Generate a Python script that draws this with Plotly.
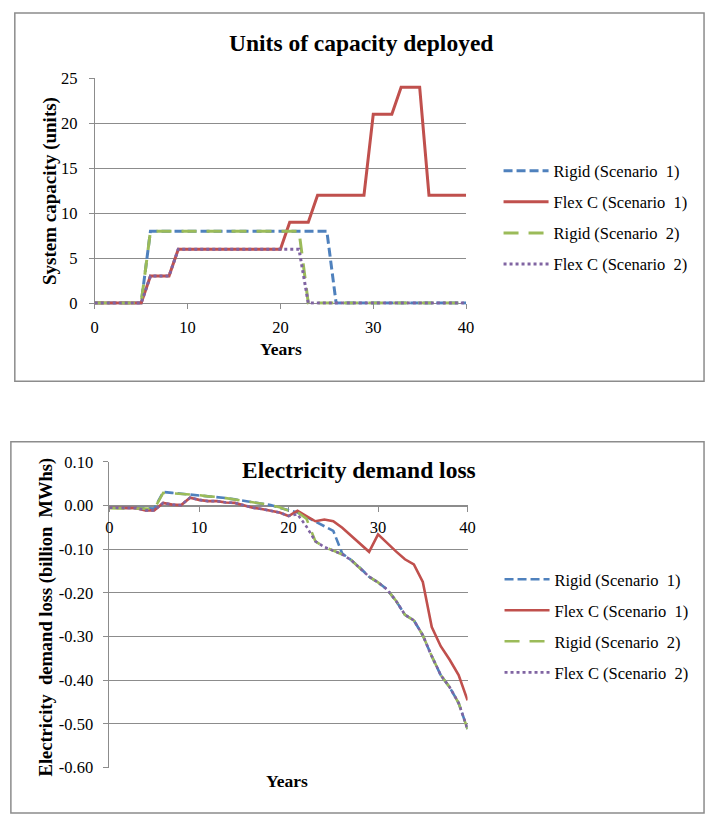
import plotly.graph_objects as go

W, H = 714, 826

years = list(range(41))

# Units of capacity deployed
rigid_s1_cap = [0, 0, 0, 0, 0, 0, 8, 8, 8, 8, 8, 8, 8, 8, 8, 8, 8, 8, 8, 8, 8,
                8, 8, 8, 8, 8, 0, 0, 0, 0, 0, 0, 0, 0, 0, 0, 0, 0, 0, 0, 0]
flex_s1_cap = [0, 0, 0, 0, 0, 0, 3, 3, 3, 6, 6, 6, 6, 6, 6, 6, 6, 6, 6, 6, 6,
               9, 9, 9, 12, 12, 12, 12, 12, 12, 21, 21, 21, 24, 24, 24, 12, 12, 12, 12, 12]
rigid_s2_cap = [0, 0, 0, 0, 0, 0, 8, 8, 8, 8, 8, 8, 8, 8, 8, 8, 8, 8, 8, 8, 8,
                8, 8, 0, 0, 0, 0, 0, 0, 0, 0, 0, 0, 0, 0, 0, 0, 0, 0, 0, 0]
flex_s2_cap = [0, 0, 0, 0, 0, 0, 3, 3, 3, 6, 6, 6, 6, 6, 6, 6, 6, 6, 6, 6, 6,
               6, 6, 0, 0, 0, 0, 0, 0, 0, 0, 0, 0, 0, 0, 0, 0, 0, 0, 0, 0]

# Electricity demand loss (billion MWhs)
rigid_s1_loss = [-0.005, -0.005, -0.005, -0.005, -0.006, -0.007, 0.031, 0.029, 0.027, 0.025,
                 0.023, 0.021, 0.020, 0.017, 0.014, 0.011, 0.008, 0.004, 0.001, -0.005,
                 -0.011, -0.016, -0.026, -0.037, -0.047, -0.058, -0.110, -0.125, -0.143, -0.163,
                 -0.176, -0.192, -0.218, -0.250, -0.263, -0.297, -0.345, -0.388, -0.416, -0.452,
                 -0.512]
flex_s1_loss = [-0.005, -0.005, -0.005, -0.006, -0.011, -0.011, 0.006, 0.002, 0.001, 0.018,
                0.013, 0.010, 0.010, 0.007, 0.006, 0.000, -0.005, -0.008, -0.012, -0.016,
                -0.024, -0.012, -0.024, -0.036, -0.032, -0.036, -0.051, -0.070, -0.089, -0.106,
                -0.066, -0.086, -0.105, -0.123, -0.135, -0.175, -0.278, -0.322, -0.353, -0.388,
                -0.446]
rigid_s2_loss = [-0.006, -0.006, -0.006, -0.006, -0.007, -0.008, 0.029, 0.028, 0.027, 0.025,
                 0.024, 0.021, 0.020, 0.017, 0.014, 0.011, 0.008, 0.004, 0.001, -0.004,
                 -0.012, -0.015, -0.030, -0.082, -0.095, -0.103, -0.112, -0.125, -0.143, -0.163,
                 -0.176, -0.192, -0.218, -0.250, -0.263, -0.297, -0.345, -0.388, -0.416, -0.452,
                 -0.512]
flex_s2_loss = [-0.005, -0.005, -0.005, -0.006, -0.011, -0.011, 0.006, 0.002, 0.001, 0.018,
                0.013, 0.010, 0.010, 0.007, 0.006, 0.000, -0.005, -0.008, -0.012, -0.016,
                -0.024, -0.020, -0.048, -0.082, -0.095, -0.103, -0.112, -0.125, -0.143, -0.163,
                -0.176, -0.192, -0.218, -0.250, -0.263, -0.297, -0.345, -0.388, -0.416, -0.452,
                -0.512]

series_names = ["Rigid (Scenario\u00a0 1)", "Flex C (Scenario\u00a0 1)",
                "Rigid (Scenario\u00a0 2)", "Flex C (Scenario\u00a0 2)"]
cap_tickvals = [0, 5, 10, 15, 20, 25]
loss_tickvals = [0.10, 0.00, -0.10, -0.20, -0.30, -0.40, -0.50, -0.60]
loss_ticktext = ["0.10", "0.00", "-0.10", "-0.20", "-0.30", "-0.40", "-0.50", "-0.60"]
year_ticks = [0, 10, 20, 30, 40]

colors = ["#4F81BD", "#C0504D", "#9BBB59", "#8064A2"]
dashes = ["9px,4px", "solid", "15px,10px", "3px,3px"]
FONT = "Liberation Serif"
GRID = "#8c8c8c"


def py(p):
    return 1 - p / H


def px_(p):
    return p / W


fig = go.Figure()

cap_series = [rigid_s1_cap, flex_s1_cap, rigid_s2_cap, flex_s2_cap]
loss_series = [rigid_s1_loss, flex_s1_loss, rigid_s2_loss, flex_s2_loss]

for i, ys in enumerate(cap_series):
    fig.add_trace(go.Scatter(x=years, y=ys, mode="lines", name=series_names[i],
                             line=dict(color=colors[i], width=3, dash=dashes[i]),
                             xaxis="x", yaxis="y", legend="legend", legendgroup="a%d" % i))
for i, ys in enumerate(loss_series):
    fig.add_trace(go.Scatter(x=years, y=ys, mode="lines", name=series_names[i],
                             line=dict(color=colors[i], width=2.6, dash=dashes[i]),
                             xaxis="x2", yaxis="y2", legend="legend2", legendgroup="b%d" % i))

# top plot geometry (pixels)
t_x0, t_x1 = 92.3, 470.0
t_ytop, t_y0 = 71.0, 301.0
t_min = -0.2
t_scale = (t_y0 - t_ytop) / 25.0
t_ybot = t_y0 - t_min * t_scale

# bottom plot geometry
b_x0, b_x1 = 107.3, 471.5
b_ytop, b_ybot = 463.5, 776.5
b_zero = b_ytop + (0.10 - 0.0) / 0.7 * (b_ybot - b_ytop)

tickfont = dict(family=FONT, size=16.5, color="#000000")
legfont = dict(family=FONT, size=16.5, color="#000000")

fig.update_layout(
    width=W, height=H,
    margin=dict(l=0, r=0, t=0, b=0),
    paper_bgcolor="white", plot_bgcolor="white",
    font=dict(family=FONT, color="#000000"),
    xaxis=dict(domain=[px_(t_x0), px_(t_x1)], range=[0, 40], tickvals=year_ticks,
               anchor="free", position=py(t_y0), showgrid=False, zeroline=False,
               showline=True, linecolor=GRID, linewidth=1, ticks="outside", ticklen=5,
               tickcolor=GRID, tickfont=tickfont, ticklabelstandoff=4, layer="below traces"),
    yaxis=dict(domain=[py(t_ybot), py(t_ytop)], range=[t_min, 25], tickvals=cap_tickvals,
               anchor="x", showgrid=True, gridcolor=GRID, gridwidth=1, zeroline=False,
               showline=True, linecolor=GRID, linewidth=1, ticks="outside", ticklen=5,
               tickcolor=GRID, tickfont=tickfont, ticklabelstandoff=8, layer="below traces"),
    xaxis2=dict(domain=[px_(b_x0), px_(b_x1)], range=[0, 40], tickvals=year_ticks,
                anchor="free", position=py(b_zero), showgrid=False, zeroline=False,
                showline=True, linecolor=GRID, linewidth=1, ticks="outside", ticklen=5,
                tickcolor=GRID, tickfont=tickfont, ticklabelstandoff=2, layer="below traces"),
    yaxis2=dict(domain=[py(b_ybot), py(b_ytop)], range=[-0.6, 0.1], tickvals=loss_tickvals,
                ticktext=loss_ticktext, anchor="x2", showgrid=True, gridcolor=GRID, gridwidth=1,
                zeroline=False, showline=True, linecolor=GRID, linewidth=1, ticks="outside",
                ticklen=5, tickcolor=GRID, tickfont=tickfont, ticklabelstandoff=7,
                layer="below traces"),
    legend=dict(x=px_(503), y=py(148), xanchor="left", yanchor="top", font=legfont,
                bgcolor="rgba(0,0,0,0)", tracegroupgap=6.6, itemwidth=45),
    legend2=dict(x=px_(504), y=py(566), xanchor="left", yanchor="top", font=legfont,
                 bgcolor="rgba(0,0,0,0)", tracegroupgap=6.6, itemwidth=45),
    showlegend=True,
)

# chart borders
fig.add_shape(type="rect", xref="paper", yref="paper", x0=px_(11), x1=px_(712),
              y0=py(381), y1=py(4), line=dict(color=GRID, width=1.5), fillcolor="rgba(0,0,0,0)")
fig.add_shape(type="rect", xref="paper", yref="paper", x0=px_(7), x1=px_(712),
              y0=py(823), y1=py(443), line=dict(color=GRID, width=1.5), fillcolor="rgba(0,0,0,0)")

ann_bold = dict(family=FONT, color="#000000")
fig.add_annotation(text="<b>Units of capacity deployed</b>", xref="paper", yref="paper",
                   x=px_(363), y=py(35), xanchor="center", yanchor="middle", showarrow=False,
                   font=dict(size=23.5, **ann_bold))
fig.add_annotation(text="<b>Electricity demand loss</b>", xref="paper", yref="paper",
                   x=px_(482), y=py(472), xanchor="right", yanchor="middle", showarrow=False,
                   font=dict(size=23.5, **ann_bold))
fig.add_annotation(text="<b>System capacity (units)</b>", xref="paper", yref="paper",
                   x=px_(46), y=py(186), xanchor="center", yanchor="middle", showarrow=False,
                   textangle=-90, font=dict(size=19, **ann_bold))
fig.add_annotation(text="<b>Electricity\u00a0 demand loss (billion\u00a0 MWhs)</b>", xref="paper",
                   yref="paper", x=px_(43.5), y=py(622), xanchor="center", yanchor="middle",
                   showarrow=False, textangle=-90, font=dict(size=18.5, **ann_bold))
fig.add_annotation(text="<b>Years</b>", xref="paper", yref="paper",
                   x=px_(282), y=py(348), xanchor="center", yanchor="middle", showarrow=False,
                   font=dict(size=17.5, **ann_bold))
fig.add_annotation(text="<b>Years</b>", xref="paper", yref="paper",
                   x=px_(288), y=py(790), xanchor="center", yanchor="middle", showarrow=False,
                   font=dict(size=17.5, **ann_bold))

fig.write_html("out.html")
